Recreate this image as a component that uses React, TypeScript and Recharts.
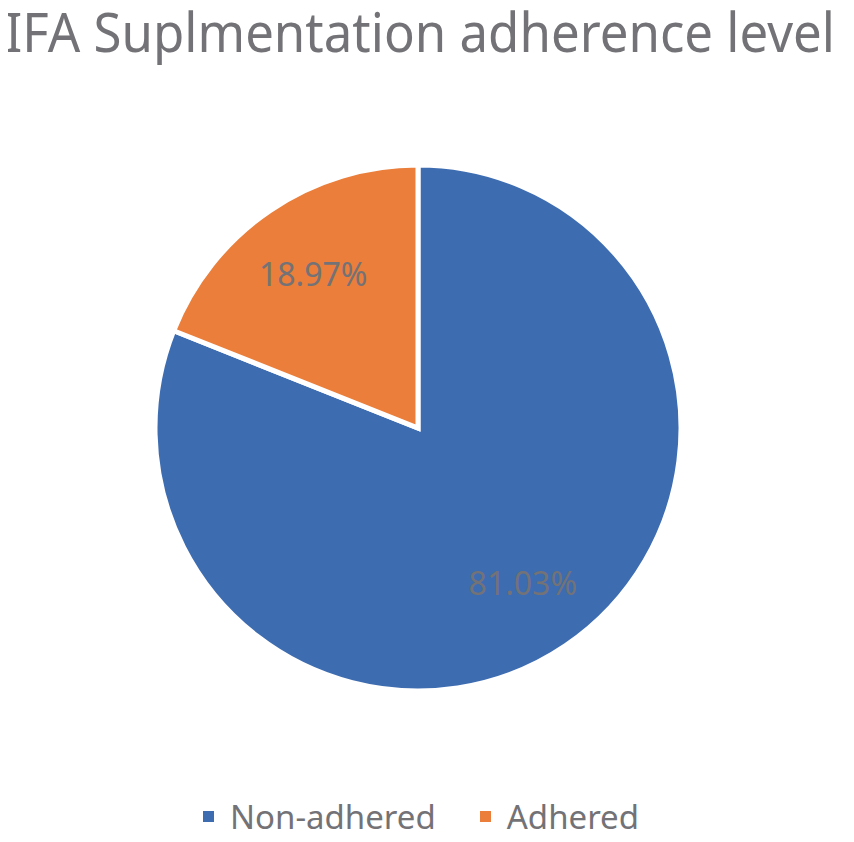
import { PieChart, Pie, Cell, Legend } from 'recharts';

const title = 'IFA Suplmentation adherence level';
const categories = ['Non-adhered', 'Adhered'];
const shares = [81.03, 18.97];
const colors = ['#3D6CB1', '#EA7E3A'];

const data = categories.map((name, i) => ({ name, value: shares[i] }));

const TEXT = '#737276';
const FONT = '"Noto Sans", sans-serif';
const RAD = Math.PI / 180;

function renderLabel(props: any) {
  const { cx, cy, midAngle, outerRadius, value } = props;
  const r = outerRadius * 0.71;
  const x = cx + r * Math.cos(-midAngle * RAD);
  const y = cy + r * Math.sin(-midAngle * RAD);
  return (
    <text
      x={x}
      y={y}
      fill={TEXT}
      fontSize={32}
      fontFamily={FONT}
      textAnchor="middle"
      dominantBaseline="central"
    >
      {value.toFixed(2)}%
    </text>
  );
}

function LegendContent() {
  return (
    <div style={{ display: 'flex', justifyContent: 'center', gap: 44, fontFamily: FONT }}>
      {categories.map((c, i) => (
        <div key={c} style={{ display: 'flex', alignItems: 'center' }}>
          <span style={{ width: 11, height: 11, background: colors[i], marginRight: 16 }} />
          <span style={{ fontSize: 33, color: TEXT }}>{c}</span>
        </div>
      ))}
    </div>
  );
}

export default function App() {
  return (
    <div style={{ position: 'relative', width: 854, height: 842, margin: -8, background: '#fff' }}>
      <svg width={854} height={90} style={{ position: 'absolute', top: 0, left: 0 }}>
        <text
          x={5}
          y={52}
          textLength={830}
          lengthAdjust="spacingAndGlyphs"
          fontFamily={FONT}
          fontSize={54}
          fill={TEXT}
        >
          {title}
        </text>
      </svg>
      <PieChart width={854} height={842}>
        <Pie
          data={data}
          dataKey="value"
          nameKey="name"
          cx={413}
          cy={423}
          outerRadius={263}
          startAngle={90}
          endAngle={-270}
          stroke="#fff"
          strokeWidth={5}
          label={renderLabel}
          labelLine={false}
          isAnimationActive={false}
        >
          {data.map((d, i) => (
            <Cell key={d.name} fill={colors[i]} />
          ))}
        </Pie>
        <Legend
          content={<LegendContent />}
          wrapperStyle={{ top: 794, left: -6, width: 854 }}
        />
      </PieChart>
    </div>
  );
}
